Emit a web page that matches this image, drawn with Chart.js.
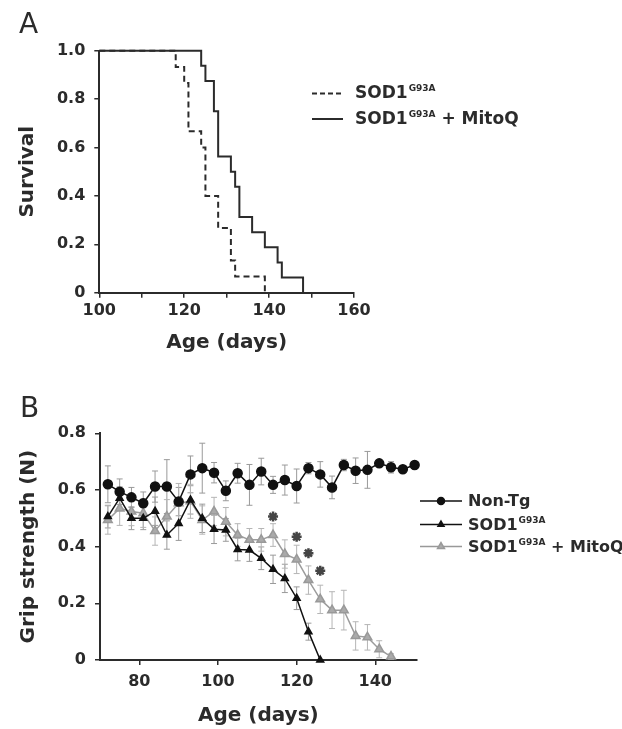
<!DOCTYPE html>
<html><head><meta charset="utf-8">
<script src="https://cdn.jsdelivr.net/npm/chart.js@4"></script>
<style>
html,body{margin:0;padding:0;background:#fff;width:622px;height:729px;overflow:hidden}
#ca{position:absolute;left:0;top:0}
#cb{position:absolute;left:0;top:360px}
</style></head><body>
<canvas id="ca" width="622" height="360"></canvas>
<canvas id="cb" width="622" height="369"></canvas>
<script>
// ---------- Panel A: survival ----------
const sodAges = [100, 118, 120, 121, 124, 125, 128, 131, 132, 139];
const sodSurvival = [1.0, 0.933, 0.867, 0.667, 0.6, 0.4, 0.267, 0.133, 0.067, 0];
const mitoAges = [100, 124, 125, 127, 128, 131, 132, 133, 136, 139, 142, 143, 148];
const mitoSurvival = [1.0, 0.9375, 0.875, 0.75, 0.5625, 0.5, 0.4375, 0.3125, 0.25, 0.1875, 0.125, 0.0625, 0];
const survXTicks = [100, 110, 120, 130, 140, 150, 160];
const survXLabels = ['100', '', '120', '', '140', '', '160'];
const survYTicks = [0, 0.2, 0.4, 0.6, 0.8, 1.0];
const survYLabels = ['0', '0.2', '0.4', '0.6', '0.8', '1.0'];

// ---------- Panel B: grip strength ----------
const gripAges = [72, 75, 78, 81, 84, 87, 90, 93, 96, 99, 102, 105, 108, 111, 114, 117, 120, 123, 126, 129, 132, 135, 138, 141, 144, 147, 150];
const nonTgGrip = [0.62, 0.594, 0.574, 0.553, 0.612, 0.612, 0.559, 0.655, 0.677, 0.661, 0.597, 0.659, 0.618, 0.665, 0.618, 0.635, 0.614, 0.677, 0.655, 0.609, 0.688, 0.668, 0.671, 0.694, 0.68, 0.673, 0.688];
const nonTgErr = [0.065, 0.045, 0.035, 0.04, 0.055, 0.095, 0.05, 0.065, 0.088, 0.036, 0.035, 0.035, 0.072, 0.047, 0.03, 0.053, 0.06, 0.02, 0.045, 0.04, 0.02, 0.045, 0.065, 0.01, 0.02, 0.01, 0.01];
const sodGrip = [0.506, 0.571, 0.5, 0.5, 0.525, 0.441, 0.482, 0.565, 0.5, 0.461, 0.459, 0.39, 0.388, 0.359, 0.32, 0.288, 0.218, 0.1, 0];
const sodErr = [0.04, 0.04, 0.04, 0.04, 0.05, 0.05, 0.06, 0.05, 0.05, 0.05, 0.04, 0.04, 0.04, 0.04, 0.05, 0.05, 0.04, 0.03, 0];
const mitoGrip = [0.494, 0.535, 0.524, 0.518, 0.455, 0.506, 0.553, 0.56, 0.494, 0.524, 0.488, 0.441, 0.424, 0.424, 0.441, 0.374, 0.355, 0.282, 0.214, 0.176, 0.176, 0.085, 0.08, 0.038, 0.012];
const mitoErr = [0.05, 0.06, 0.05, 0.05, 0.05, 0.06, 0.07, 0.06, 0.05, 0.05, 0.05, 0.04, 0.04, 0.04, 0.04, 0.05, 0.05, 0.05, 0.05, 0.065, 0.07, 0.05, 0.045, 0.03, 0.01];
const starAges = [114, 120, 123, 126];
const starGrip = [0.506, 0.435, 0.377, 0.315];
const gripXTicks = [80, 100, 120, 140];
const gripXLabels = ['80', '100', '120', '140'];
const gripYTicks = [0, 0.2, 0.4, 0.6, 0.8];
const gripYLabels = ['0', '0.2', '0.4', '0.6', '0.8'];

const FONT = 'DejaVu Sans';
const INK = '#2b2b2b';
Chart.defaults.font.family = FONT;
Chart.defaults.color = INK;

const pts = (xs, ys) => ys.map((v, i) => ({x: xs[i], y: v}));

function axis(ticks, labels, min, max, tickPad, fitFn) {
  return {
    type: 'linear', min: min, max: max,
    afterBuildTicks: s => { s.ticks = ticks.map(v => ({value: v})); },
    ticks: {
      autoSkip: false, maxRotation: 0, padding: tickPad, color: INK,
      font: {size: 16, weight: 'bold', family: FONT},
      callback: v => { const k = ticks.findIndex(t => Math.abs(t - v) < 1e-9); return k < 0 ? '' : labels[k]; }
    },
    grid: {drawOnChartArea: false, drawTicks: true, tickLength: 5, color: INK, lineWidth: 1.5},
    border: {display: true, color: INK, width: 2},
    afterFit: fitFn
  };
}

function supLabel(ctx, x, y, main, sup, tail, size, supSize) {
  ctx.font = 'bold ' + size + 'px ' + FONT;
  ctx.textBaseline = 'middle';
  ctx.textAlign = 'left';
  ctx.fillText(main, x, y);
  x += ctx.measureText(main).width;
  if (sup) {
    ctx.font = 'bold ' + supSize + 'px ' + FONT;
    ctx.fillText(sup, x + 1, y - size * 0.3);
    x += ctx.measureText(sup).width + 1;
  }
  if (tail) {
    ctx.font = 'bold ' + size + 'px ' + FONT;
    ctx.fillText(tail, x, y);
  }
}

// ---------- Chart A ----------
const panelA = {
  id: 'panelA',
  afterDraw(chart) {
    const ctx = chart.ctx;
    ctx.save();
    ctx.fillStyle = INK;
    ctx.font = '28px ' + FONT;
    ctx.textBaseline = 'alphabetic';
    ctx.fillText('A', 19, 33);
    ctx.strokeStyle = INK;
    ctx.lineWidth = 2;
    ctx.setLineDash([5, 3]);
    ctx.beginPath(); ctx.moveTo(312, 93.5); ctx.lineTo(343, 93.5); ctx.stroke();
    ctx.setLineDash([]);
    ctx.beginPath(); ctx.moveTo(312, 119); ctx.lineTo(343, 119); ctx.stroke();
    supLabel(ctx, 355, 94, 'SOD1', 'G93A', '', 17, 9);
    supLabel(ctx, 355, 120, 'SOD1', 'G93A', ' + MitoQ', 17, 9);
    ctx.restore();
  }
};

new Chart(document.getElementById('ca'), {
  type: 'line',
  data: {
    datasets: [
      {label: 'SOD1 G93A', data: pts(sodAges, sodSurvival), stepped: 'before', borderColor: INK, borderWidth: 2, borderDash: [6, 4], pointRadius: 0, fill: false, clip: false},
      {label: 'SOD1 G93A + MitoQ', data: pts(mitoAges, mitoSurvival), stepped: 'before', borderColor: INK, borderWidth: 2, pointRadius: 0, fill: false, clip: false}
    ]
  },
  options: {
    responsive: false, animation: false,
    layout: {padding: {left: 16, top: 50.7, right: 268, bottom: 5}},
    plugins: {legend: {display: false}, tooltip: {enabled: false}},
    scales: {
      x: Object.assign(axis(survXTicks, survXLabels, 100, 160, 4, s => { s.height = 62.3; }),
        {title: {display: true, text: 'Age (days)', color: INK, padding: 0, font: {size: 20, weight: 'bold', family: FONT}}}),
      y: Object.assign(axis(survYTicks, survYLabels, 0, 1, 9, s => { s.width = 83.3; }),
        {title: {display: true, text: 'Survival', color: INK, padding: 0, font: {size: 20, weight: 'bold', family: FONT}}})
    }
  },
  plugins: [panelA]
});

// ---------- Chart B ----------
const errorBars = {
  id: 'errorBars',
  beforeDatasetsDraw(chart) {
    const ctx = chart.ctx, ys = chart.scales.y;
    chart.data.datasets.forEach((ds, i) => {
      if (!ds.errors) return;
      const meta = chart.getDatasetMeta(i);
      ctx.save();
      ctx.strokeStyle = ds.errorColor;
      ctx.lineWidth = 1;
      meta.data.forEach((pt, j) => {
        const e = ds.errors[j];
        if (!e) return;
        const v = ds.data[j].y;
        const y1 = ys.getPixelForValue(v + e), y2 = ys.getPixelForValue(Math.max(0, v - e));
        ctx.beginPath();
        ctx.moveTo(pt.x, y1); ctx.lineTo(pt.x, y2);
        ctx.moveTo(pt.x - 3, y1); ctx.lineTo(pt.x + 3, y1);
        ctx.moveTo(pt.x - 3, y2); ctx.lineTo(pt.x + 3, y2);
        ctx.stroke();
      });
      ctx.restore();
    });
  }
};

const panelB = {
  id: 'panelB',
  afterDraw(chart) {
    const ctx = chart.ctx;
    ctx.save();
    ctx.fillStyle = INK;
    ctx.font = '28px ' + FONT;
    ctx.textBaseline = 'alphabetic';
    ctx.fillText('B', 20, 57);
    const rows = [
      {y: 141, line: '#111', fill: '#111', style: 'circle', r: 3.5, main: 'Non-Tg', sup: '', tail: ''},
      {y: 164.5, line: '#111', fill: '#111', style: 'triangle', r: 3.5, main: 'SOD1', sup: 'G93A', tail: ''},
      {y: 186.5, line: '#999', fill: '#aaa', style: 'triangle', r: 4, main: 'SOD1', sup: 'G93A', tail: ' + MitoQ'}
    ];
    rows.forEach(r => {
      ctx.strokeStyle = r.line; ctx.lineWidth = 1.5;
      ctx.beginPath(); ctx.moveTo(420, r.y); ctx.lineTo(462, r.y); ctx.stroke();
      ctx.fillStyle = r.fill;
      Chart.helpers.drawPoint(ctx, {pointStyle: r.style, radius: r.r, borderWidth: 1, rotation: 0}, 441, r.y);
      ctx.fillStyle = INK;
      supLabel(ctx, 468, r.y + 1, r.main, r.sup, r.tail, 16, 9);
    });
    ctx.restore();
  }
};

new Chart(document.getElementById('cb'), {
  type: 'line',
  data: {
    datasets: [
      {label: 'Non-Tg', data: pts(gripAges, nonTgGrip), errors: nonTgErr, errorColor: '#9a9a9a',
        borderColor: '#111', borderWidth: 1.5, pointStyle: 'circle', pointRadius: 4.5, pointBackgroundColor: '#111', pointBorderColor: '#111', fill: false, clip: false, tension: 0},
      {label: 'SOD1 G93A', data: pts(gripAges, sodGrip), errors: sodErr, errorColor: '#9a9a9a',
        borderColor: '#111', borderWidth: 1.5, pointStyle: 'triangle', pointRadius: 4, pointBackgroundColor: '#111', pointBorderColor: '#111', fill: false, clip: false, tension: 0},
      {label: 'SOD1 G93A + MitoQ', data: pts(gripAges, mitoGrip), errors: mitoErr, errorColor: '#b5b5b5',
        borderColor: '#9c9c9c', borderWidth: 1.5, pointStyle: 'triangle', pointRadius: 5, pointBackgroundColor: '#aaa', pointBorderColor: '#999', fill: false, clip: false, tension: 0},
      {label: 'p < 0.05', data: pts(starAges, starGrip), showLine: false, pointStyle: 'star', pointRadius: 5, borderWidth: 2.5, pointBorderColor: '#444', pointBackgroundColor: '#444', clip: false}
    ]
  },
  options: {
    responsive: false, animation: false,
    layout: {padding: {left: 17, top: 73.3, right: 205.4, bottom: 1}},
    plugins: {legend: {display: false}, tooltip: {enabled: false}},
    scales: {
      x: Object.assign(axis(gripXTicks, gripXLabels, 70, 150.5, 7, s => { s.height = 68; }),
        {title: {display: true, text: 'Age (days)', color: INK, padding: 0, font: {size: 20, weight: 'bold', family: FONT}}}),
      y: Object.assign(axis(gripYTicks, gripYLabels, 0, 0.8, 9, s => { s.width = 83; }),
        {title: {display: true, text: 'Grip strength (N)', color: INK, padding: 0, font: {size: 20, weight: 'bold', family: FONT}}})
    }
  },
  plugins: [errorBars, panelB]
});
</script></body></html>
